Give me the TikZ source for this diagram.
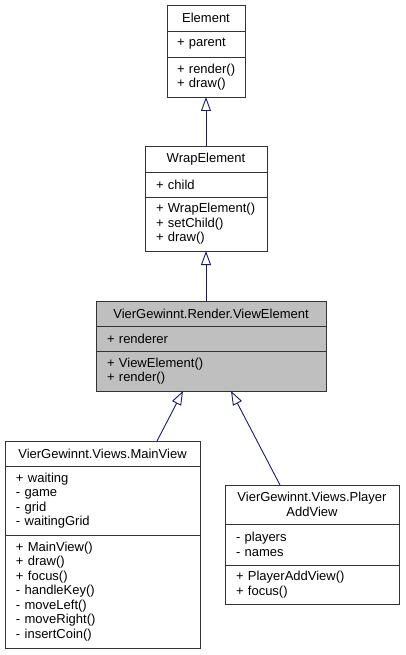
\documentclass[tikz,border=0pt]{standalone}
\usepackage{fontspec}
\setmainfont{Liberation Sans}
\usetikzlibrary{positioning, arrows.meta}
\definecolor{edgeblue}{HTML}{191970}
\definecolor{activegray}{HTML}{BFBFBF}
\tikzstyle{classtitle} = [rectangle, draw=black!80, fill=white, line width=0.9pt, align=center, inner xsep=6pt, inner ysep=0pt, outer sep=0pt, font=\fontsize{13}{14.5}\selectfont]
\tikzstyle{classbody} = [rectangle, draw=black!80, fill=white, line width=0.9pt, align=left, inner xsep=11pt, inner ysep=0pt, outer sep=0pt, font=\fontsize{13}{14.5}\selectfont]
\tikzstyle{inherit} = [draw=edgeblue, line width=0.9pt, -{Triangle[open, length=14pt, width=10pt]}]

\begin{document}
\begin{tikzpicture}[x=1pt, y=-1pt]
           \useasboundingbox (0,0) rectangle (405,655);

           \node (elemTitle) [classtitle, anchor=north, minimum width=78pt, minimum height=26pt] at (206,5) {Element};
           \node (elemAttr) [classbody, below=0pt of elemTitle, inner xsep=10pt, text width=58pt, minimum height=26pt] {+ parent};
           \node (elemMeth) [classbody, below=0pt of elemAttr, inner xsep=10pt, text width=58pt, minimum height=40pt] {\mbox{+ render()}\\+ draw()};

           \node (wrapTitle) [classtitle, anchor=north, minimum width=122pt, minimum height=26pt] at (206,146) {WrapElement};
           \node (wrapAttr) [classbody, below=0pt of wrapTitle, text width=100pt, minimum height=25pt] {+ child};
           \node (wrapMeth) [classbody, below=0pt of wrapAttr, text width=100pt, minimum height=54pt] {+ WrapElement()\\+ setChild()\\+ draw()};

           \node (viewTitle) [classtitle, fill=activegray, anchor=north, minimum width=230pt, minimum height=25pt] at (211,301) {VierGewinnt.Render.ViewElement};
           \node (viewAttr) [classbody, fill=activegray, below=0pt of viewTitle, text width=208pt, minimum height=25pt] {+ renderer};
           \node (viewMeth) [classbody, fill=activegray, below=0pt of viewAttr, text width=208pt, minimum height=40pt] {+ ViewElement()\\+ render()};

           \node (mainTitle) [classtitle, anchor=north, minimum width=195pt, minimum height=25pt] at (102.5,441) {VierGewinnt.Views.MainView};
           \node (mainAttr) [classbody, below=0pt of mainTitle, text width=173pt, minimum height=69pt] {+ waiting\\- game\\- grid\\- waitingGrid};
           \node (mainMeth) [classbody, below=0pt of mainAttr, text width=173pt, minimum height=113pt] {+ MainView()\\+ draw()\\+ focus()\\- handleKey()\\- moveLeft()\\- moveRight()\\- insertCoin()};

           \node (playerTitle) [classtitle, anchor=north, minimum width=174pt, minimum height=39pt] at (312,485) {VierGewinnt.Views.Player\\AddView};
           \node (playerAttr) [classbody, below=0pt of playerTitle, text width=152pt, minimum height=41pt] {- players\\- names};
           \node (playerMeth) [classbody, below=0pt of playerAttr, text width=152pt, minimum height=39pt] {+ PlayerAddView()\\+ focus()};

           \draw [inherit] (wrapTitle.north) -- (elemMeth.south);
           \draw [inherit] (viewTitle.north -| wrapMeth.south) -- (wrapMeth.south);
           \draw [inherit] ([xshift=54.5pt]mainTitle.north) -- ([xshift=-28pt]viewMeth.south);
           \draw [inherit] ([xshift=-32pt]playerTitle.north) -- ([xshift=20pt]viewMeth.south);
        \end{tikzpicture}
\end{document}
